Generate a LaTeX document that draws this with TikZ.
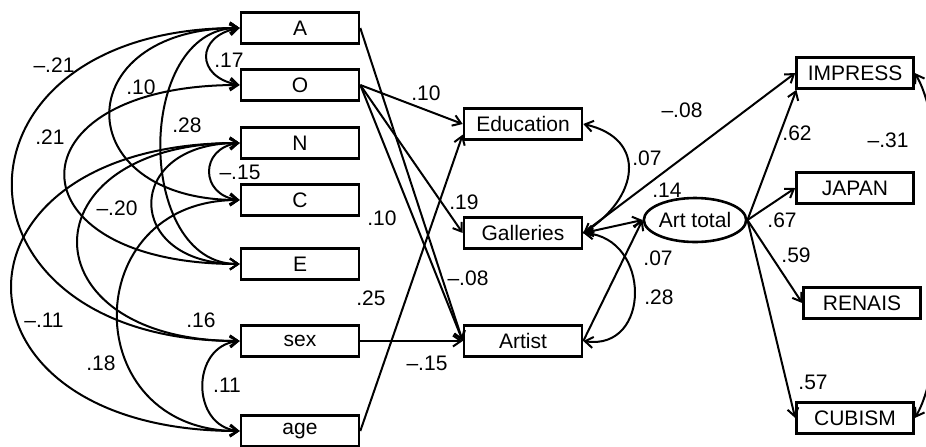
\documentclass[tikz,border=0pt]{standalone}
\usepackage{fontspec}
\setmainfont{Liberation Sans}
\usetikzlibrary{shapes.geometric,arrows.meta}
\begin{document}
\begin{tikzpicture}[x=0.5pt,y=-0.5pt,line width=1pt,>={Straight Barb[length=4pt,width=5.5pt]},
  font=\fontsize{10.5}{12}\selectfont,
  var/.style={draw,line width=1.3pt,minimum width=59pt,minimum height=15.5pt,inner sep=0pt},
  lat/.style={draw,line width=1.3pt,ellipse,minimum width=44pt,minimum height=22pt,inner sep=0pt},
  cov/.style={<->},
  eff/.style={->},
  wt/.style={inner sep=0pt}]
\useasboundingbox (0,0) rectangle (926,446);
% predictors
\node [var] (A) at (300,28) {A};
\node [var] (O) at (300,85) {O};
\node [var] (N) at (300,143) {N};
\node [var] (C) at (300,200) {C};
\node [var] (E) at (300,264) {E};
\node [var] (sex) at (300,341) {sex};
\node [var] (age) at (300,431) {age};
% mediators
\node [var] (edu) at (523,124) {Education};
\node [var] (gal) at (523,233) {Galleries};
\node [var] (artist) at (523,341) {Artist};
\node [lat] (art) at (695,220) {Art total};
% indicators
\node [var,minimum width=58.5pt] (imp) at (855,73) {IMPRESS};
\node [var,minimum width=58.5pt] (jap) at (855,188) {JAPAN};
\node [var,minimum width=58.5pt] (ren) at (862,303) {RENAIS};
\node [var,minimum width=58.5pt] (cub) at (855,418) {CUBISM};

% correlations among predictors
\draw [cov] (A.west) .. controls +(-44,8) and +(-44,-8) .. (O.west);
\draw [cov] (A.west) .. controls +(-173,0) and +(-173,0) .. (C.west);
\draw [cov] (A.west) .. controls +(-105,0) and +(-105,0) .. (E.west);
\draw [cov] (A.west) .. controls +(-303,0) and +(-303,0) .. (sex.west);
\draw [cov] (O.west) .. controls +(-233,0) and +(-233,0) .. (E.west);
\draw [cov] (N.west) .. controls +(-40,5) and +(-40,-5) .. (C.west);
\draw [cov] (N.west) .. controls +(-117,0) and +(-117,0) .. (E.west);
\draw [cov] (N.west) .. controls +(-216,0) and +(-216,0) .. (sex.west);
\draw [cov] (N.west) .. controls +(-304,0) and +(-304,0) .. (age.west);
\draw [cov] (C.west) .. controls +(-163,0) and +(-163,0) .. (age.west);
\draw [cov] (sex.west) .. controls +(-49,5) and +(-49,-5) .. (age.west);
\node [wt] (lAO) at (229,60) {.17};
\node [wt] (lAC) at (141,87) {.10};
\node [wt] (lAE) at (187,125) {.28};
\node [wt] (lAsex) at (54,65) {–.21};
\node [wt] (lOE) at (50,137) {.21};
\node [wt] (lNC) at (240,172) {–.15};
\node [wt] (lNE) at (117,208) {–.20};
\node [wt] (lNsex) at (201,320) {.16};
\node [wt] (lNage) at (44,320) {–.11};
\node [wt] (lCage) at (101,363) {.18};
\node [wt] (lsexage) at (227,385) {.11};

% paths to mediators
\draw [eff] (A.east) -- (artist.west);
\draw [eff] (O.east) -- (edu.west);
\draw [eff] (O.east) -- (gal.west);
\draw [eff] (O.east) -- (artist.west);
\draw [eff] (sex.east) -- (artist.west);
\draw [eff] (age.east) -- (edu.190);
\node [wt] (lOedu) at (426,93) {.10};
\node [wt] (lOgal) at (464,202) {.19};
\node [wt] (lOartist) at (382,218) {.10};
\node [wt] (lAartist) at (468,278) {–.08};
\node [wt] (lageedu) at (371,298) {.25};
\node [wt] (lsexartist) at (427,363) {–.15};

% mediators and art total
\draw [cov] (edu.east) .. controls +(65,15) and +(55,-35) .. (gal.east);
\draw [cov] (gal.east) .. controls +(68,5) and +(68,10) .. (artist.east);
\draw [eff] (gal.east) -- (imp.west);
\draw [cov] (gal.east) -- (art.west);
\draw [eff] (artist.east) -- (art.west);
\node [wt] (lgalimp) at (682,110) {–.08};
\node [wt] (ledugal) at (647,158) {.07};
\node [wt] (lgalart) at (667,190) {.14};
\node [wt] (lartistart) at (658,258) {.07};
\node [wt] (lgalartist) at (659,297) {.28};

% loadings
\draw [eff] (art.east) -- (imp.196);
\draw [eff] (art.east) -- (jap.west);
\draw [eff] (art.east) -- (ren.west);
\draw [eff] (art.east) -- (cub.west);
\draw [cov] (imp.east) .. controls +(36,60) and +(36,-60) .. (cub.east);
\node [wt] (limp) at (797,133) {.62};
\node [wt] (ljap) at (782,220) {.67};
\node [wt] (lren) at (796,255) {.59};
\node [wt] (lcub) at (813,382) {.57};
\node [wt] (limpcub) at (888,140) {–.31};
\end{tikzpicture}
\end{document}
